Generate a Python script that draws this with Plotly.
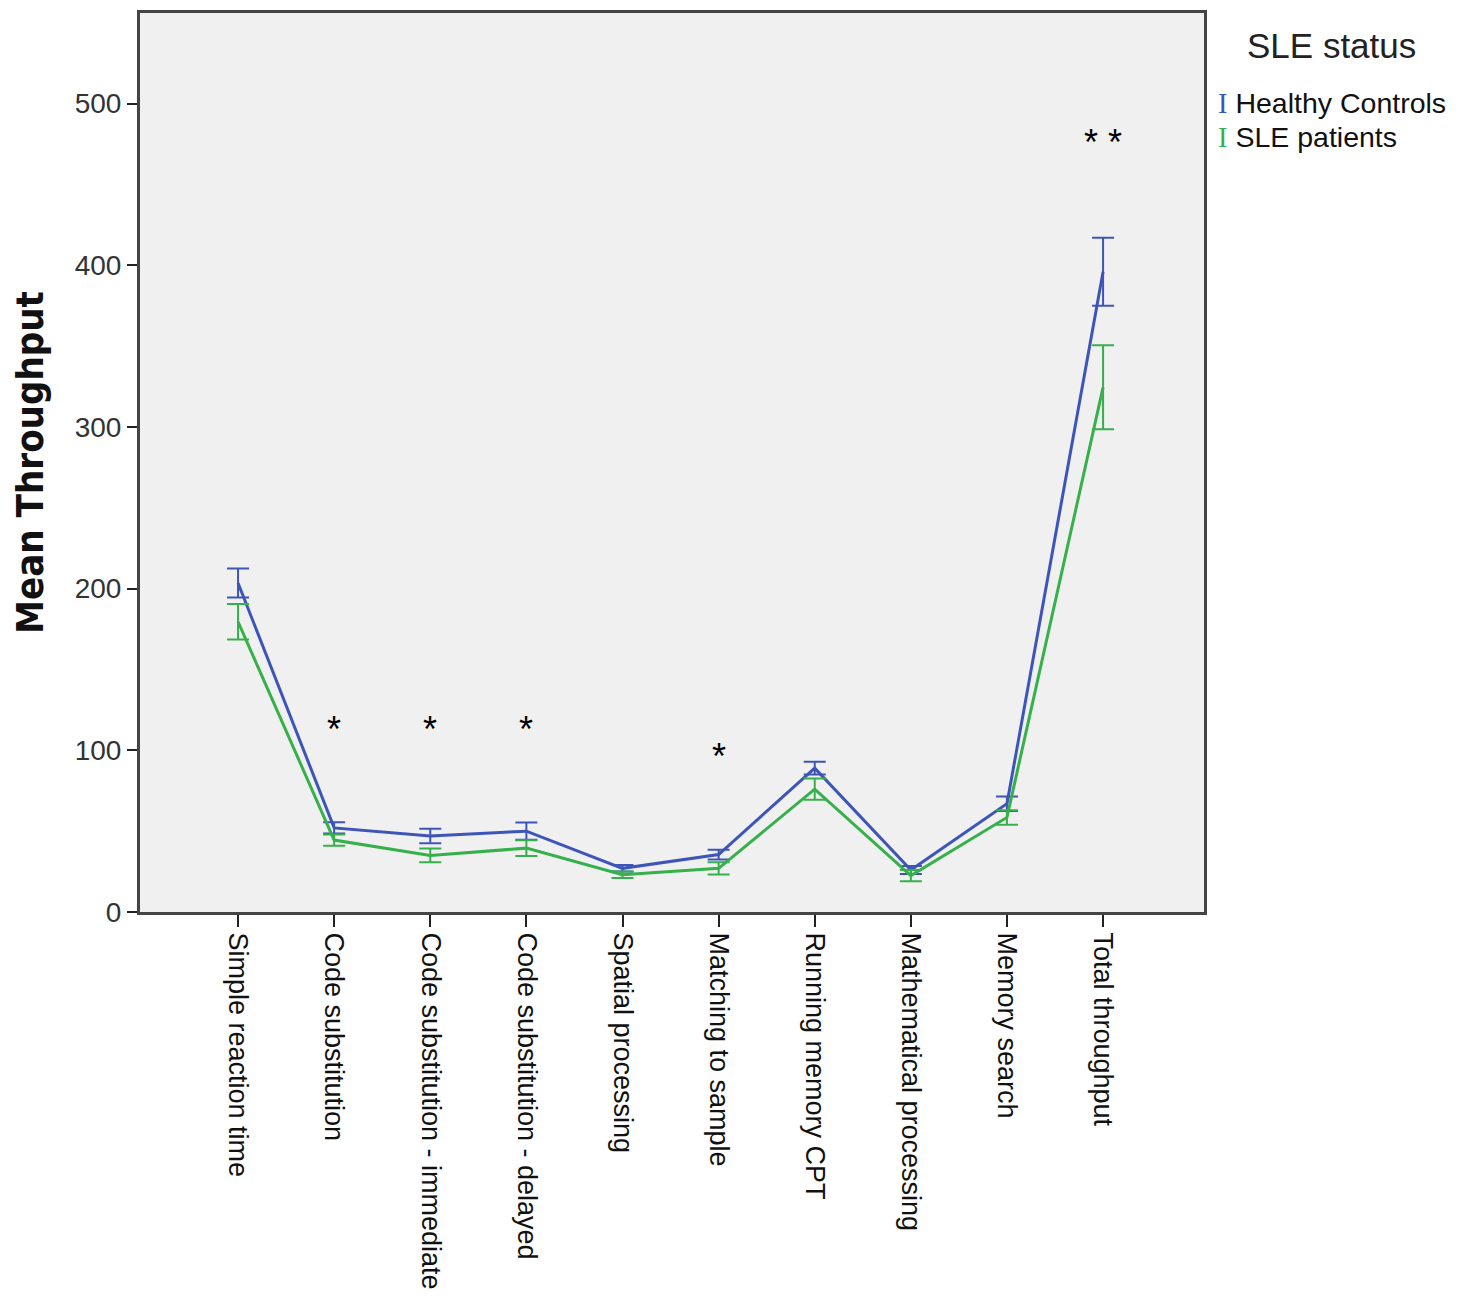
import plotly.graph_objects as go

categories = ["Simple reaction time", "Code substitution", "Code substitution - immediate",
              "Code substitution - delayed", "Spatial processing", "Matching to sample",
              "Running memory CPT", "Mathematical processing", "Memory search", "Total throughput"]
hc_mean = [203.5, 52.0, 47.0, 50.0, 27.0, 35.5, 89.0, 26.0, 67.0, 396.0]
hc_err = [9.0, 3.5, 4.5, 5.3, 2.0, 3.0, 4.0, 2.5, 4.5, 21.0]
sle_mean = [179.5, 44.5, 35.0, 39.5, 23.0, 27.0, 76.0, 22.5, 58.5, 324.5]
sle_err = [11.0, 3.5, 4.2, 4.8, 2.0, 3.8, 6.5, 3.5, 4.5, 26.0]
sig_labels = ["", "*", "*", "*", "", "*", "", "", "", "* *"]
sig_y = [None, 113, 113, 113, None, 96, None, None, None, 476]

BLUE = "#3D55B8"
GREEN = "#36B04A"
FONT = "Liberation Sans, Arial, sans-serif"

x = list(range(len(categories)))

fig = go.Figure()
fig.add_trace(go.Scatter(
    x=x, y=hc_mean, mode="lines", name="Healthy Controls",
    line=dict(color=BLUE, width=3),
    error_y=dict(type="data", array=hc_err, visible=True, color=BLUE, thickness=2, width=11),
))
fig.add_trace(go.Scatter(
    x=x, y=sle_mean, mode="lines", name="SLE patients",
    line=dict(color=GREEN, width=3),
    error_y=dict(type="data", array=sle_err, visible=True, color=GREEN, thickness=2, width=11),
))

for i, (lab, yy) in enumerate(zip(sig_labels, sig_y)):
    if lab:
        fig.add_annotation(x=i, y=yy, text=lab, showarrow=False,
                           font=dict(family=FONT, size=36, color="black"))

# Legend drawn as annotations (SPSS style error-bar glyph)
fig.add_annotation(xref="paper", yref="paper", x=1.0385, y=0.964, xanchor="left", yanchor="middle",
                   text="SLE status", showarrow=False, font=dict(family=FONT, size=35, color="#222"))
fig.add_annotation(xref="paper", yref="paper", x=1.011, y=0.900, xanchor="left", yanchor="middle",
                   text=f"<span style='font-family:Liberation Serif;color:{BLUE}'>I</span> Healthy Controls",
                   showarrow=False, font=dict(family=FONT, size=28.5, color="#111"))
fig.add_annotation(xref="paper", yref="paper", x=1.011, y=0.8625, xanchor="left", yanchor="middle",
                   text=f"<span style='font-family:Liberation Serif;color:{GREEN}'>I</span> SLE patients",
                   showarrow=False, font=dict(family=FONT, size=28.5, color="#111"))

fig.update_layout(
    width=1469, height=1298,
    margin=dict(l=132, r=273, t=2, b=394),
    paper_bgcolor="white", plot_bgcolor="#F0F0F0",
    showlegend=False,
    font=dict(family=FONT, size=28, color="#222"),
)
fig.update_xaxes(
    range=[-1.02, 10.05], tickmode="array", tickvals=x, ticktext=categories,
    tickangle=90, ticks="outside", ticklen=12, tickwidth=2, tickcolor="#222",
    showline=True, linecolor="#444", linewidth=3, mirror=True, showgrid=False, zeroline=False,
    tickfont=dict(family=FONT, size=27, color="#111"),
)
fig.update_yaxes(
    range=[0, 556], tickvals=[0, 100, 200, 300, 400, 500],
    ticks="outside", ticklen=10, tickwidth=2, tickcolor="#222",
    showline=True, linecolor="#444", linewidth=3, mirror=True, showgrid=False, zeroline=False,
    tickfont=dict(family=FONT, size=28, color="#333"),
    title=dict(text="<b>Mean Throughput</b>", standoff=20,
               font=dict(family="Liberation Sans Narrow, DejaVu Sans Condensed, Liberation Sans, sans-serif",
                         size=38, color="#111")),
)

fig.write_html("out.html")
